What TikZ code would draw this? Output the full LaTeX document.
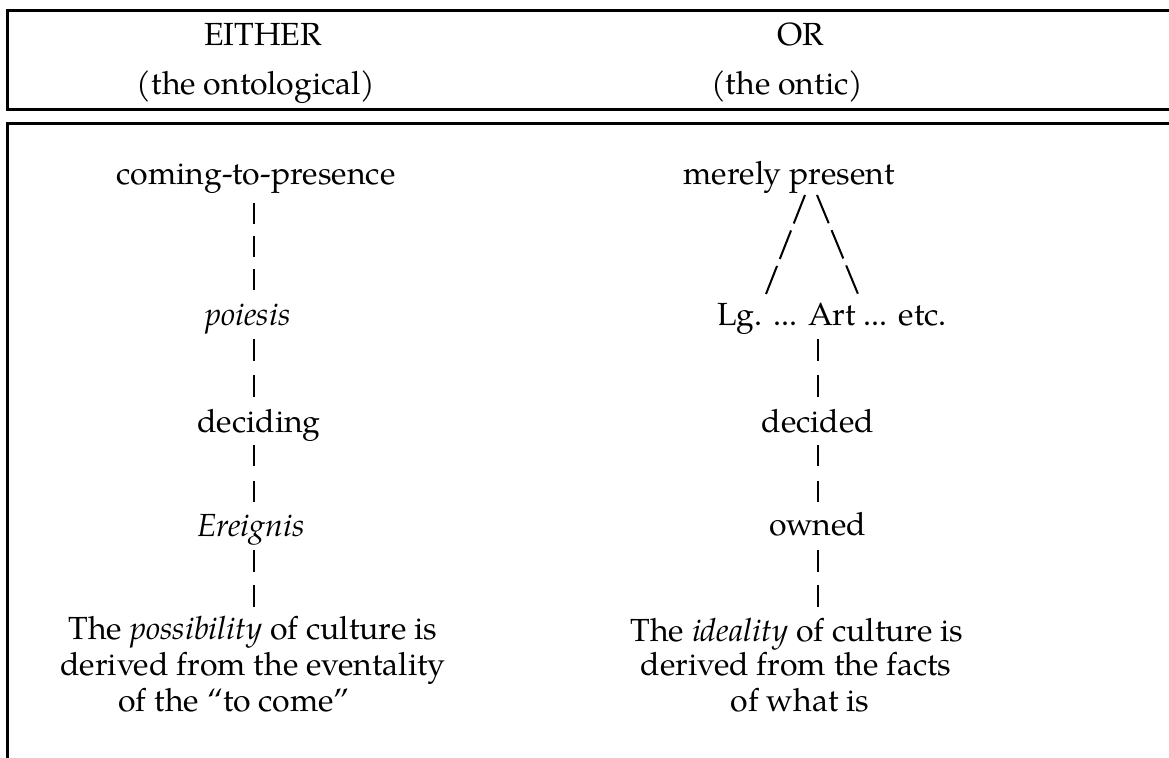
\documentclass[tikz,border=0pt]{standalone}
\usepackage{fontspec}
\setmainfont{TeX Gyre Pagella}
\usetikzlibrary{calc}
\begin{document}
\begin{tikzpicture}[x=0.5pt,y=-0.5pt,
  lbl/.style={anchor=base,inner sep=0pt,font=\fontsize{16}{19}\selectfont},
  boxline/.style={line width=1.5pt,line join=miter,line cap=butt},
  vbar/.style={line width=1pt,line cap=butt},
  slashline/.style={line width=1pt,line cap=butt,dash pattern=on 15.3pt off 3.75pt}]
\useasboundingbox (0,0) rectangle (1169,758);
% frames
\draw[boxline] (1172,11) -- (7,11) -- (7,110) -- (1172,110);
\draw[boxline] (1172,124) -- (7,124) -- (7,762);
% headers
\node[lbl] (e1) at (263,46) {EITHER};
\node[lbl] (e2) at (256,95) {(the ontological)};
\node[lbl] (o1) at (801,46) {OR};
\node[lbl] (o2) at (787,95) {(the ontic)};
% left column
\coordinate (Lcol) at (254,0);
\node[lbl] (cp) at (256,185) {coming-to-presence};
\node[lbl] (po) at (248,326) {\itshape poiesis};
\node[lbl] (de) at (259,433) {deciding};
\node[lbl] (er) at (251,537) {\itshape Ereignis};
\node[lbl] (lt1) at (253,640) {The \textit{possibility} of culture is};
\node[lbl] (lt2) at (253,676) {derived from the eventality};
\node[lbl] (lt3) at (234,712) {of the “to come”};
\draw[vbar,dash pattern=on 10.5pt off 6pt,shorten <=9pt,shorten >=18pt] (Lcol |- cp.base) -- (Lcol |- po.base);
\draw[vbar,dash pattern=on 11pt off 7pt,shorten <=6.5pt,shorten >=18pt] (Lcol |- po.base) -- (Lcol |- de.base);
\draw[vbar,dash pattern=on 10.5pt off 7.5pt,shorten <=6pt,shorten >=17.5pt] (Lcol |- de.base) -- (Lcol |- er.base);
\draw[vbar,dash pattern=on 11pt off 6.5pt,shorten <=6.5pt,shorten >=16.5pt] (Lcol |- er.base) -- (Lcol |- lt1.base);
% right column
\coordinate (Rcol) at (818,0);
\node[lbl] (mp) at (789,185) {merely present};
\node[lbl] (lg) at (832,326) {Lg. ... Art ... etc.};
\node[lbl] (dd) at (818,433) {decided};
\node[lbl] (ow) at (818,536) {owned};
\node[lbl] (rt1) at (797,642) {The \textit{ideality} of culture is};
\node[lbl] (rt2) at (796,676) {derived from the facts};
\node[lbl] (rt3) at (800,712) {of what is};
\draw[slashline] ($(mp.base)+(16,10)$) -- ($(lg.base)+(-66,-32)$);
\draw[slashline] ($(mp.base)+(28,10)$) -- ($(lg.base)+(26,-32)$);
\draw[vbar,dash pattern=on 11pt off 7pt,shorten <=6.5pt,shorten >=18pt] (Rcol |- lg.base) -- (Rcol |- dd.base);
\draw[vbar,dash pattern=on 10.5pt off 7.5pt,shorten <=6pt,shorten >=17pt] (Rcol |- dd.base) -- (Rcol |- ow.base);
\draw[vbar,dash pattern=on 11pt off 6.5pt,shorten <=7pt,shorten >=17.5pt] (Rcol |- ow.base) -- (Rcol |- rt1.base);
\end{tikzpicture}
\end{document}
